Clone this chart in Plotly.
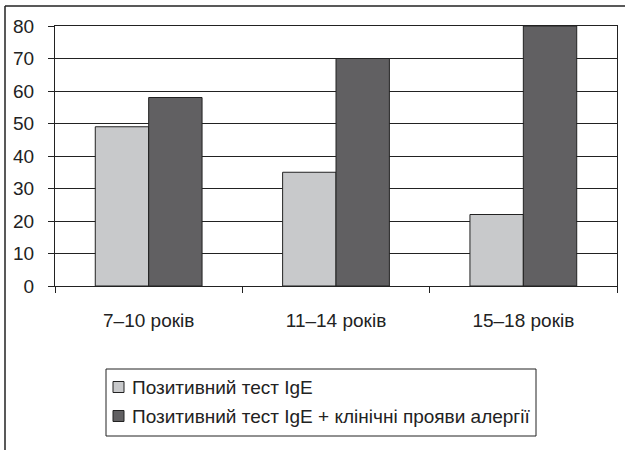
import plotly.graph_objects as go

# Age groups and shares (%) for each test outcome
age_groups = ["7\u201310 років", "11\u201314 років", "15\u201318 років"]
ige_positive = [49, 35, 22]
ige_plus_clinical = [58, 70, 80]
series_names = [
    "Позитивний тест IgE",
    "Позитивний тест IgE + клінічні прояви алергії",
]
series_colors = ["#c8c9cb", "#616062"]
y_ticks = [0, 10, 20, 30, 40, 50, 60, 70, 80]

INK = "#222222"
FONT = dict(family="Liberation Sans", size=19, color=INK)

W, H = 625, 450
L, R, T, B = 55, 8, 26, 164
PW, PH = W - L - R, H - T - B


def px(x):
    """Pixel column -> paper x."""
    return (x - L) / PW


def py(y):
    """Pixel row -> paper y."""
    return (H - B - y) / PH


fig = go.Figure()
for name, vals, col in zip(series_names, [ige_positive, ige_plus_clinical], series_colors):
    fig.add_trace(go.Bar(
        x=age_groups, y=vals, name=name,
        marker=dict(color=col, line=dict(color=INK, width=1)),
        showlegend=False,
    ))

shapes = [
    # outer frame (top and left edges)
    dict(type="line", xref="paper", yref="paper",
         x0=px(5), x1=px(630), y0=py(6), y1=py(6),
         line=dict(color=INK, width=1.5)),
    dict(type="line", xref="paper", yref="paper",
         x0=px(5), x1=px(5), y0=py(6), y1=py(460),
         line=dict(color=INK, width=1.5)),
    # legend box
    dict(type="rect", xref="paper", yref="paper",
         x0=px(106), x1=px(536), y0=py(369), y1=py(436),
         line=dict(color=INK, width=1), fillcolor="white"),
]
annotations = []
for i, (name, col) in enumerate(zip(series_names, series_colors)):
    cy = 387 + 29 * i
    shapes.append(dict(type="rect", xref="paper", yref="paper",
                       x0=px(113), x1=px(124), y0=py(cy - 5.5), y1=py(cy + 5.5),
                       line=dict(color=INK, width=1), fillcolor=col))
    annotations.append(dict(text=name, xref="paper", yref="paper",
                            x=px(130), y=py(cy), xanchor="left", yanchor="middle",
                            showarrow=False, font=FONT))

fig.update_layout(
    width=W, height=H,
    margin=dict(l=L, r=R, t=T, b=B),
    paper_bgcolor="white", plot_bgcolor="white",
    font=FONT,
    barmode="group", bargap=0.43, bargroupgap=0,
    showlegend=False,
    xaxis=dict(
        showline=True, linecolor=INK, linewidth=1, mirror=True,
        ticks="outside", ticklen=6, tickcolor=INK, tickson="boundaries",
        showgrid=False, ticklabelstandoff=17,
    ),
    yaxis=dict(
        range=[0, 80], tickvals=y_ticks,
        showline=True, linecolor=INK, linewidth=1, mirror=True,
        ticks="outside", ticklen=6, tickcolor=INK,
        showgrid=True, gridcolor=INK, gridwidth=1,
        zeroline=False, ticklabelstandoff=10,
    ),
    shapes=shapes,
    annotations=annotations,
)

fig.write_html("out.html")
